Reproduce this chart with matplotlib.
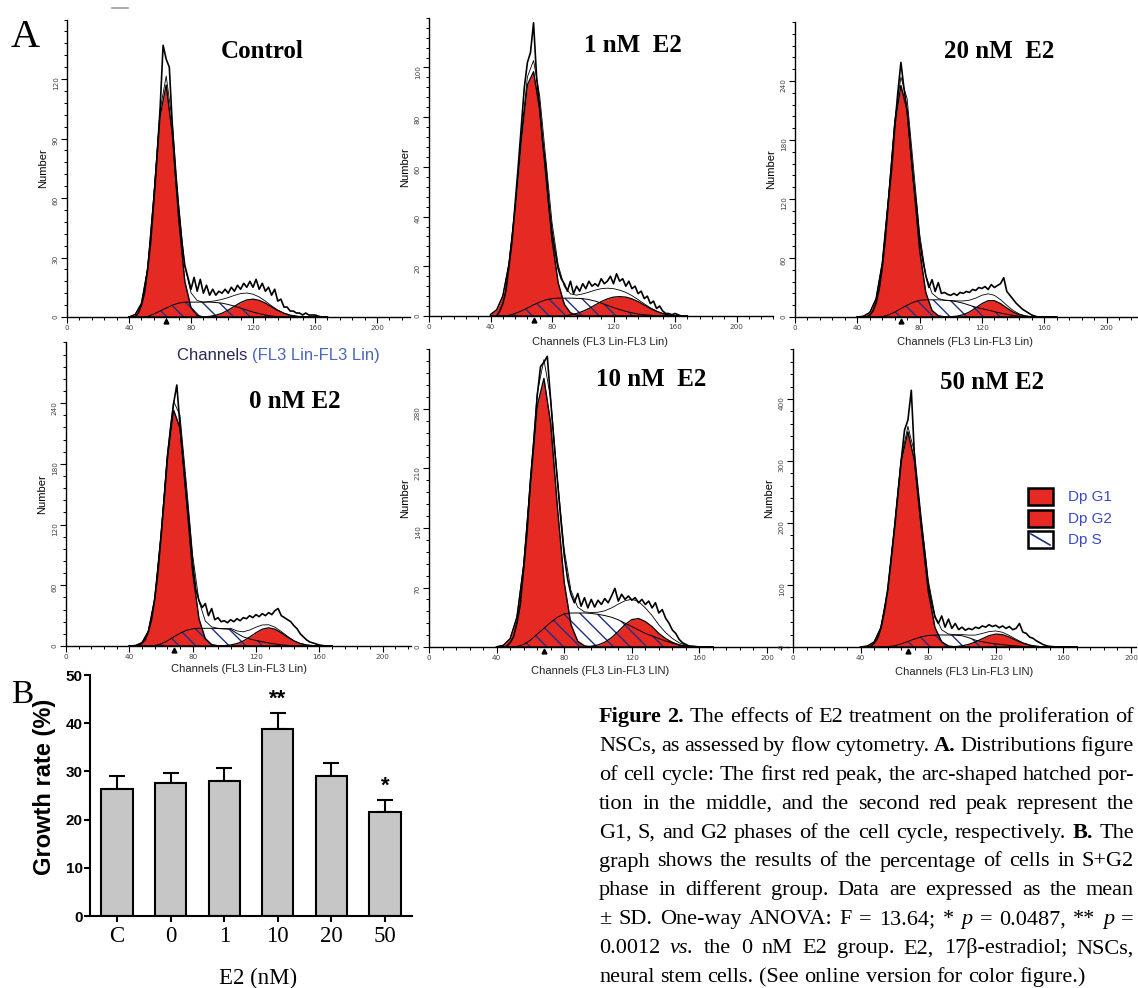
import numpy as np
import matplotlib.pyplot as plt
from matplotlib.ticker import MultipleLocator
from matplotlib.patches import Rectangle
from matplotlib.lines import Line2D
from matplotlib.transforms import offset_copy

W, H = 1138, 988

# ---------------- data ----------------
# channel grids: model components every 4 channels, measured histogram every 2
ch = np.arange(40, 172, 4)
ch_raw = np.arange(40, 170, 2)

# Control
g1_ctrl = [0, 1.3, 6.8, 24, 60, 101, 117, 92, 50, 18, 4.7, 0.8, 0, 0, 0, 0,
           0, 0, 0, 0, 0, 0, 0, 0, 0, 0, 0, 0, 0, 0, 0, 0, 0]
s_ctrl = [0, 0, 0, 0.3, 1.5, 3, 4.5, 6, 7, 7.5, 7.5, 7.5, 7.5, 7.5, 7.3, 7,
          6.3, 5.5, 4.5, 3.5, 2.5, 1.7, 1, 0.5, 0.2, 0, 0, 0, 0, 0, 0, 0, 0]
g2_ctrl = [0, 0, 0, 0, 0, 0, 0, 0, 0, 0, 0, 0, 0, 0.3, 0.9, 1.9,
           3.5, 5.4, 7.3, 8.6, 9, 8.4, 7, 5.1, 3.3, 1.9, 0.9, 0.4, 0.1, 0, 0, 0, 0]
raw_ctrl = [0, 0, 0, 2, 6, 12, 24, 38, 58, 80,
            104, 137, 130, 126, 96, 72, 55, 38, 26, 20,
            14, 20, 13, 19, 12, 16, 11, 14, 11, 13,
            12, 14, 12, 15, 13, 16, 14, 17, 15, 18,
            15, 19, 14, 17, 13, 15, 11, 14, 8, 9,
            5, 5, 3, 3, 2, 2, 1, 2, 1, 1,
            1, 0.5, 0, 0, 0]

# 1 nM E2
g1_1 = [0.6, 2.5, 8.1, 20.9, 42.9, 70.5, 93, 98.3, 83, 56.6, 30.7, 13.4, 4.7, 1.3, 0.3, 0,
        0, 0, 0, 0, 0, 0, 0, 0, 0, 0, 0, 0, 0, 0, 0, 0, 0]
s_1 = [0, 0, 0, 0.3, 1, 2, 3.2, 4.5, 5.6, 6.5, 7, 7.2, 7.2, 7.2, 7.1, 7,
       6.6, 6, 5.2, 4.3, 3.4, 2.6, 1.9, 1.3, 0.8, 0.5, 0.3, 0.1, 0, 0, 0, 0, 0]
g2_1 = [0, 0, 0, 0, 0, 0, 0, 0, 0, 0, 0, 0, 0, 0.4, 1.0, 1.9,
        3.0, 4.4, 5.8, 6.9, 7.6, 7.8, 7.6, 6.9, 5.8, 4.4, 3.0, 1.9, 1.0, 0.4, 0.1, 0, 0]
raw_1 = [0, 0, 0, 2, 5, 10, 20, 30, 45, 60,
         76, 92, 102, 106, 118, 96, 84, 70, 60, 45,
         34, 26, 19, 15, 13, 10, 14, 9, 12, 10,
         13, 11, 14, 12, 13, 12, 15, 13, 14, 16,
         13, 17, 14, 15, 12, 14, 11, 12, 9, 10,
         7, 8, 5, 6, 3, 4, 2, 1, 1, 0.5,
         1, 0.5, 0, 0, 0]

# 20 nM E2
g1_20 = [0.1, 0.85, 4.6, 18.4, 54.5, 120, 195, 235.5, 210, 139, 68, 24.8, 6.6, 1.3, 0.2, 0,
         0, 0, 0, 0, 0, 0, 0, 0, 0, 0, 0, 0, 0, 0, 0, 0, 0]
s_20 = [0, 0, 0, 0, 0.5, 2, 5, 8.5, 12, 15, 17, 17.5, 17.5, 17.5, 17, 16.5,
        15.5, 14, 12, 10, 8.5, 7, 5.5, 4, 2.7, 1.6, 0.8, 0.3, 0.1, 0, 0, 0, 0]
g2_20 = [0, 0, 0, 0, 0, 0, 0, 0, 0, 0, 0, 0, 0, 0, 0, 0.26,
         0.86, 2.3, 5.1, 9.2, 13.6, 16.6, 16.6, 13.6, 9.2, 5.1, 2.3, 0.86, 0.26, 0.06, 0, 0, 0]
raw_20 = [0, 0, 0, 0, 2, 6, 14, 28, 50, 80,
          118, 150, 192, 228, 259, 232, 210, 175, 140, 112,
          78, 58, 42, 30, 38, 26, 35, 24, 25, 23,
          22, 24, 22, 25, 24, 26, 25, 28, 27, 30,
          29, 31, 28, 33, 30, 32, 34, 40, 26, 22,
          18, 14, 11, 8, 6, 4, 2, 1, 0, 0,
          0, 0, 0, 0, 0]

# 0 nM E2
g1_0 = [0.1, 0.6, 3.3, 14.5, 46, 108, 185, 233, 215.5, 146, 73, 26.8, 7.2, 1.4, 0.2, 0,
        0, 0, 0, 0, 0, 0, 0, 0, 0, 0, 0, 0, 0, 0, 0, 0, 0]
s_0 = [0, 0, 0, 0, 0.5, 2, 5, 9, 12.5, 15.5, 17, 17.5, 17.5, 17.5, 17.3, 16.8,
       16.5, 12.5, 9, 7, 5.5, 4.2, 3, 2, 1.2, 0.7, 0.3, 0.1, 0, 0, 0, 0, 0]
g2_0 = [0, 0, 0, 0, 0, 0, 0, 0, 0, 0, 0, 0, 0, 0, 0, 0.36,
        1.0, 2.4, 5.0, 8.8, 13.1, 16.6, 18, 16.6, 13.1, 8.8, 5.0, 2.4, 1.0, 0.36, 0.1, 0, 0]
raw_0 = [0, 0, 0, 0, 3, 6, 14, 26, 46, 72,
         108, 145, 185, 215, 240, 258, 218, 185, 150, 118,
         82, 56, 45, 38, 42, 30, 37, 26, 28, 24,
         25, 23, 26, 24, 27, 25, 28, 27, 30, 28,
         31, 29, 32, 30, 33, 31, 35, 37, 30, 28,
         26, 24, 20, 17, 12, 9, 6, 4, 3, 2,
         1, 0.5, 0, 0, 0]

# 10 nM E2
g1_10 = [0.3, 2, 9.8, 35, 95, 190, 283, 316, 263, 164, 76, 26.4, 6.8, 1.3, 0.2, 0,
         0, 0, 0, 0, 0, 0, 0, 0, 0, 0, 0, 0, 0, 0, 0, 0, 0]
s_10 = [0, 0, 0, 0.5, 3, 8, 15, 22, 29, 35, 39, 40, 40, 40, 39.5, 38.5,
        37, 35, 32, 28, 24, 20, 16, 13, 10, 7, 4.5, 2.5, 1, 0.3, 0, 0, 0]
g2_10 = [0, 0, 0, 0, 0, 0, 0, 0, 0, 0, 0, 0, 0, 0, 0.9, 2.4,
         5.6, 11, 18.4, 26.4, 32.2, 33.5, 30, 24, 16, 10, 5.5, 2.5, 0.9, 0.3, 0, 0, 0]
raw_10 = [0, 0, 0, 1, 5, 12, 28, 50, 92, 135,
          195, 240, 295, 330, 335, 342, 290, 240, 195, 150,
          108, 80, 62, 52, 63, 48, 58, 46, 56, 47,
          55, 50, 57, 52, 60, 69, 54, 62, 56, 60,
          55, 58, 52, 56, 50, 54, 46, 52, 40, 44,
          34, 28, 20, 16, 9, 5, 3, 1, 1, 0.5,
          0, 0, 0, 0, 0]

# 50 nM E2
g1_50 = [0.2, 1.6, 8.2, 31.4, 90, 190, 299, 347, 299, 190, 90, 31.4, 8.2, 1.6, 0.2, 0,
         0, 0, 0, 0, 0, 0, 0, 0, 0, 0, 0, 0, 0, 0, 0, 0, 0]
s_50 = [0, 0, 0, 0, 0.5, 2, 5, 9, 13, 16.5, 18.5, 19.2, 19.4, 19.3, 19, 18.2,
        15, 11, 8.5, 6.5, 5, 3.7, 2.6, 1.7, 1, 0.5, 0.2, 0.1, 0, 0, 0, 0, 0]
g2_50 = [0, 0, 0, 0, 0, 0, 0, 0, 0, 0, 0, 0, 0, 0, 0.7, 1.8,
         4.2, 8.2, 13.4, 18.3, 20.9, 20, 16, 10.8, 6, 2.8, 1.1, 0.4, 0.1, 0, 0, 0, 0]
raw_50 = [0, 0, 0, 1, 6, 14, 30, 56, 92, 140,
          190, 245, 300, 350, 366, 414, 300, 245, 195, 150,
          100, 72, 48, 38, 50, 32, 45, 30, 38, 28,
          32, 27, 30, 28, 32, 30, 34, 32, 36, 33,
          35, 31, 34, 30, 33, 28, 30, 38, 24, 22,
          16, 14, 10, 7, 4, 2, 1, 0.5, 0, 0,
          0, 0, 0, 0, 0]

legend_labels = ['Dp G1', 'Dp G2', 'Dp S']

# panel B
groups = ['C', '0', '1', '10', '20', '50']
growth = [26.3, 27.6, 28.0, 38.8, 29.0, 21.6]
growth_sd = [2.7, 2.1, 2.7, 3.3, 2.7, 2.5]
stars = ['', '', '', '**', '', '*']

# ---------------- layout (pixels of the 1138x988 picture) ----------------
RED = '#e42a22'
NAVY = '#1f2f86'
SERIF = 'Liberation Serif'
SANS = 'Liberation Sans'

# title, data, origin x, origin y, px/channel, px/unit, y top, y step, x right,
# title centre, channel label, channel label centre
panels = [
    ('Control', (g1_ctrl, s_ctrl, g2_ctrl, raw_ctrl), 67, 317, 1.55, 1.983, 150, 30, 221,
     (262, 52), None, None),
    ('1 nM  E2', (g1_1, s_1, g2_1, raw_1), 429, 316, 1.5375, 2.485, 120, 20, 224,
     (633, 45), 'Channels (FL3 Lin-FL3 Lin)', (600, 342)),
    ('20 nM  E2', (g1_20, s_20, g2_20, raw_20), 795, 317, 1.5575, 0.983, 300, 60, 221,
     (999, 52), 'Channels (FL3 Lin-FL3 Lin)', (965, 342)),
    ('0 nM E2', (g1_0, s_0, g2_0, raw_0), 66, 646, 1.583, 1.0117, 300, 60, 218,
     (295, 402), 'Channels (FL3 Lin-FL3 Lin)', (239, 669)),
    ('10 nM  E2', (g1_10, s_10, g2_10, raw_10), 429, 647, 1.69, 0.85, 350, 70, 213,
     (651, 380), 'Channels (FL3 Lin-FL3 LIN)', (600, 671)),
    ('50 nM E2', (g1_50, s_50, g2_50, raw_50), 793, 647, 1.69, 0.62, 480, 100, 203,
     (992, 382), 'Channels (FL3 Lin-FL3 LIN)', (964, 672)),
]


def fx(px):
    return px / W


def fy(py):
    return 1 - py / H


plt.rcParams['hatch.linewidth'] = 1.0
fig = plt.figure(figsize=(W / 100, H / 100), dpi=100)
fig.patch.set_facecolor('white')

for (title, data, x0, y0, pxc, pyu, ytop, ystep, xright,
     tpos, clabel, cpos) in panels:
    g1, s, g2, raw = (np.array(v, dtype=float) for v in data)
    ax = fig.add_axes([fx(x0), fy(y0), xright * pxc / W, ytop * pyu / H])
    ax.fill_between(ch, g1, color=RED, lw=0, zorder=1)
    ax.fill_between(ch, g2, color=RED, lw=0, zorder=1)
    ax.fill_between(ch, s, facecolor='none', edgecolor=NAVY, hatch='\\\\', lw=0, zorder=2)
    ax.plot(ch, g1, color='k', lw=1.0, zorder=3)
    ax.plot(ch, g2, color='k', lw=0.9, zorder=3)
    ax.plot(ch, s, color='k', lw=0.7, zorder=3)
    ax.plot(ch, g1 + s + g2, color='k', lw=0.6, zorder=3)
    ax.plot(ch_raw, raw, color='k', lw=1.2, zorder=4)
    # G1 peak marker under the axis
    mk = offset_copy(ax.transData, fig=fig, y=-4, units='dots')
    ax.plot(ch[np.argmax(g1)], 0, marker='^', ms=3.5, color='k', transform=mk, clip_on=False)

    ax.set_xlim(0, xright)
    ax.set_ylim(0, ytop)
    ax.set_yticks(np.arange(0, ytop, ystep))
    ax.yaxis.set_minor_locator(MultipleLocator(ystep / 5))
    ax.xaxis.set_major_locator(MultipleLocator(40))
    ax.xaxis.set_minor_locator(MultipleLocator(8))
    for sp in ['top', 'right']:
        ax.spines[sp].set_visible(False)
    for sp in ['left', 'bottom']:
        ax.spines[sp].set_linewidth(1.0)
    ax.tick_params(which='major', length=4, width=0.8, labelsize=5.2,
                   labelcolor='#444444', pad=2)
    ax.tick_params(which='minor', length=2.5, width=0.7)
    ax.tick_params(axis='y', labelrotation=90)
    ax.patch.set_alpha(0)

    fig.text(fx(x0 - 24), fy(y0 - ytop * pyu / 2), 'Number', rotation=90,
             ha='center', va='center', fontsize=8, family=SANS)
    fig.text(fx(tpos[0]), fy(tpos[1]), title, ha='center', va='center',
             fontsize=18, fontweight='bold', family=SERIF)
    if clabel:
        fig.text(fx(cpos[0]), fy(cpos[1]), clabel, ha='center', va='center',
                 fontsize=8, family=SANS, color='#222222')

# big channel label under the control panel (two colours)
renderer = fig.canvas.get_renderer()
t1 = fig.text(fx(177), fy(355), 'Channels ', ha='left', va='center',
              fontsize=12, family=SANS, color='#2a2a55')
x_next = t1.get_window_extent(renderer).x1
fig.text(x_next / W, fy(355), '(FL3 Lin-FL3 Lin)', ha='left', va='center',
         fontsize=12, family=SANS, color='#4a66b8')

# legend of panel 50 nM
for i, lab in enumerate(legend_labels):
    ytop_px = 488 + i * 21.5
    if lab == 'Dp S':
        fig.patches.append(Rectangle((fx(1028), fy(ytop_px + 17)), 25 / W, 17 / H,
                                     transform=fig.transFigure, facecolor='white',
                                     edgecolor='k', lw=1.8))
        fig.lines.append(Line2D([fx(1031), fx(1050)], [fy(ytop_px + 3), fy(ytop_px + 14)],
                                transform=fig.transFigure, color=NAVY, lw=1.2))
    else:
        fig.patches.append(Rectangle((fx(1028), fy(ytop_px + 17)), 25 / W, 17 / H,
                                     transform=fig.transFigure, facecolor=RED,
                                     edgecolor='k', lw=1.8))
    fig.text(fx(1068), fy(ytop_px + 9), lab, ha='left', va='center',
             fontsize=11, family=SANS, color='#3a48c8')

# panel letters and the small grey mark at the top
fig.text(fx(11), fy(47), 'A', fontsize=29, family=SERIF, va='baseline')
fig.text(fx(11), fy(703), 'B', fontsize=24, family=SERIF, va='baseline')
fig.lines.append(Line2D([fx(112), fx(128)], [fy(8), fy(8)], transform=fig.transFigure,
                        color='#999999', lw=1.2))

# ---------------- panel B: bar chart ----------------
axb = fig.add_axes([fx(90), fy(916), 322 / W, 241 / H])
xb = np.arange(len(groups))
axb.bar(xb, growth, width=0.58, color='#c6c6c6', edgecolor='k', linewidth=1.5, zorder=2)
axb.errorbar(xb, growth, yerr=[np.zeros(len(groups)), growth_sd], fmt='none',
             ecolor='k', elinewidth=1.5, capsize=6, capthick=1.5, zorder=1)
for xi, v, sd, st in zip(xb, growth, growth_sd, stars):
    if st:
        axb.annotate(st, (xi, v + sd), xytext=(0, 6), textcoords='offset points',
                     ha='center', va='baseline', fontsize=16, fontweight='bold',
                     family=SANS)
axb.set_xlim(-0.504, 5.504)
axb.set_ylim(0, 50)
axb.set_yticks(np.arange(0, 51, 10))
axb.set_xticks(xb)
axb.set_xticklabels(groups, family=SERIF, fontsize=16.5)
for lab in axb.get_yticklabels():
    lab.set_fontweight('bold')
    lab.set_family(SANS)
    lab.set_fontsize(11)
for sp in ['top', 'right']:
    axb.spines[sp].set_visible(False)
for sp in ['left', 'bottom']:
    axb.spines[sp].set_linewidth(1.5)
axb.tick_params(axis='y', length=4.3, width=1.5, pad=1)
axb.tick_params(axis='x', length=4.3, width=1.5, pad=3)
axb.patch.set_alpha(0)
fig.text(fx(45), fy(787), 'Growth rate (%)', rotation=90, ha='center', va='center',
         fontsize=17, fontweight='bold', family=SANS)
fig.text(fx(258), fy(978), 'E2 (nM)', ha='center', va='center', fontsize=16.5, family=SERIF)

# ---------------- caption ----------------
caption = [
    [('Figure 2.', 'b'), ('The effects of E2 treatment on the proliferation of', 'n')],
    [('NSCs, as assessed by flow cytometry.', 'n'), ('A.', 'b'), ('Distributions figure', 'n')],
    [('of cell cycle: The first red peak, the arc-shaped hatched por-', 'n')],
    [('tion in the middle, and the second red peak represent the', 'n')],
    [('G1, S, and G2 phases of the cell cycle, respectively.', 'n'), ('B.', 'b'), ('The', 'n')],
    [('graph shows the results of the percentage of cells in S+G2', 'n')],
    [('phase in different group. Data are expressed as the mean', 'n')],
    [('± SD. One-way ANOVA: F = 13.64; *', 'n'), ('p', 'i'), ('= 0.0487, **', 'n'),
     ('p', 'i'), ('=', 'n')],
    [('0.0012', 'n'), ('vs.', 'i'), ('the 0 nM E2 group. E2, 17β-estradiol; NSCs,', 'n')],
    [('neural stem cells. (See online version for color figure.)', 'n')],
]
CAP_FS = 16
L, R = 599, 1134
probe_a = fig.text(0, 0, 'a a', fontsize=CAP_FS, family=SERIF)
probe_b = fig.text(0, 0, 'aa', fontsize=CAP_FS, family=SERIF)
space_w = probe_a.get_window_extent(renderer).width - probe_b.get_window_extent(renderer).width
probe_a.remove()
probe_b.remove()

for i, segs in enumerate(caption):
    yb = 722 + 28.9 * i
    arts = []
    for txt, st in segs:
        for w in txt.split(' '):
            arts.append(fig.text(0, fy(yb), w, fontsize=CAP_FS, family=SERIF,
                                 fontweight='bold' if st == 'b' else 'normal',
                                 fontstyle='italic' if st == 'i' else 'normal',
                                 ha='left', va='baseline'))
    widths = [a.get_window_extent(renderer).width for a in arts]
    last = i == len(caption) - 1
    gap = space_w if last else (R - L - sum(widths)) / (len(arts) - 1)
    x = L
    for a, wd in zip(arts, widths):
        a.set_x(x / W)
        x += wd + gap

fig.savefig('out.png', dpi=100, facecolor='white')
